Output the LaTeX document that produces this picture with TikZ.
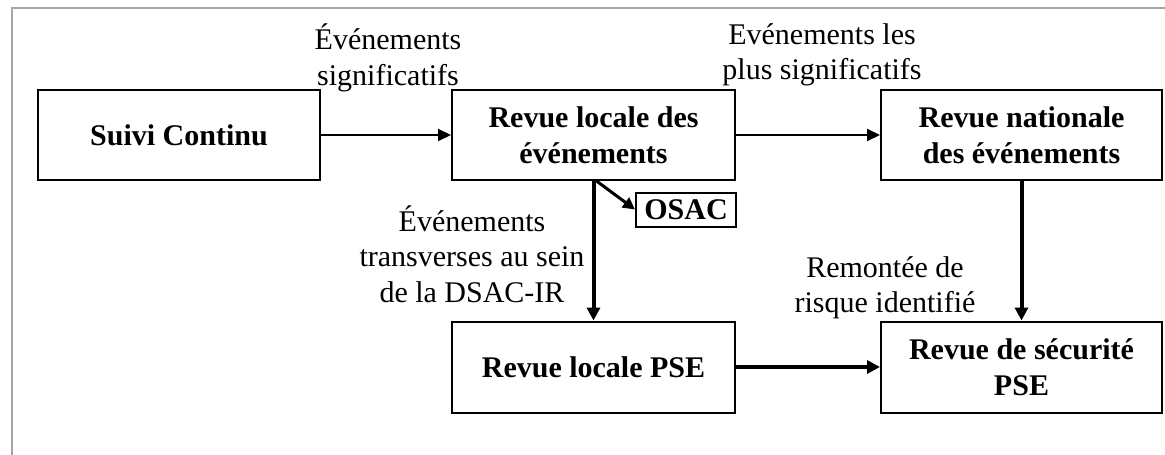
\documentclass[tikz,border=0pt]{standalone}
\usepackage{fontspec}
\setmainfont{Liberation Serif}
\usetikzlibrary{arrows.meta}
\begin{document}
\begin{tikzpicture}[x=1pt,y=-1pt,
  box/.style={draw, line width=2pt, inner sep=0pt, align=center,
    font=\bfseries\fontsize{30}{36}\selectfont},
  lbl/.style={inner sep=0pt, align=center, font=\fontsize{30}{35.5}\selectfont},
  thinarrow/.style={line width=2pt, -{Triangle[length=13pt,width=12pt]}},
  thickarrow/.style={line width=4pt, -{Triangle[length=13pt,width=13pt]}},
  framel/.style={draw=black!35, line width=2pt}]
\useasboundingbox (0,0) rectangle (1165,455);
\draw[framel] (12,455) -- (12,8) -- (1165,8);
\node[box, minimum width=282pt, minimum height=90pt] (suivi) at (179,135) {Suivi Continu};
\node[box, minimum width=283pt, minimum height=90pt] (rlocal) at (593.5,135) {Revue locale des\\événements};
\node[box, minimum width=281pt, minimum height=90pt] (rnat) at (1021.5,135) {Revue nationale\\des événements};
\node[box, minimum width=100pt, minimum height=34pt] (osac) at (686,209.5) {OSAC};
\node[box, minimum width=283pt, minimum height=91pt] (rpse) at (593.5,367) {Revue locale PSE};
\node[box, minimum width=281pt, minimum height=91pt] (rsec) at (1021.5,367) {Revue de sécurité\\PSE};
\node[lbl] (l1) at (388,58) {Événements\\significatifs};
\node[lbl] (l2) at (822,55) {Evénements les\\plus significatifs};
\node[lbl] (l3) at (472,254) {Événements\\transverses au sein\\de la DSAC-IR};
\node[lbl] (l4) at (885,288) {Remontée de\\risque identifié};
\draw[thinarrow] (suivi.east) -- (rlocal.west);
\draw[thinarrow] (rlocal.east) -- (rnat.west);
\draw[thickarrow] (rlocal.south) -- (rpse.north);
\draw[thickarrow] (rnat.south) -- (rsec.north);
\draw[thickarrow] (rpse.east) -- (rsec.west);
\draw[line width=3pt, -{Triangle[length=12pt,width=12pt]}] ([xshift=3pt]rlocal.south) -- (osac.west);
\end{tikzpicture}
\end{document}
